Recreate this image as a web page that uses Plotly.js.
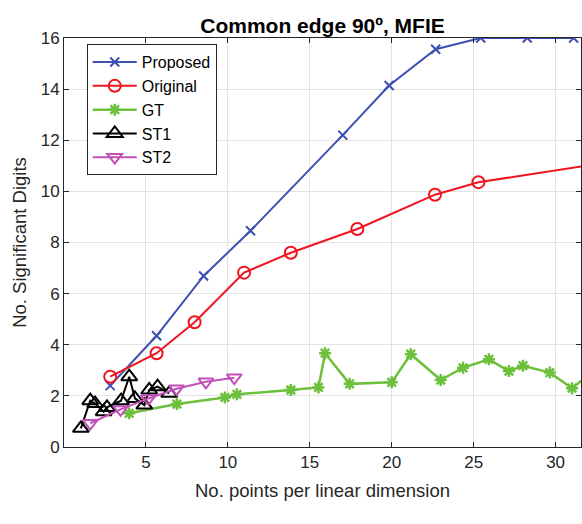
<!DOCTYPE html>
<html>
<head>
<meta charset="utf-8">
<script src="https://cdn.plot.ly/plotly-3.0.1.min.js"></script>
<style>html,body{margin:0;padding:0;background:#fff;}#chart{width:582px;height:524px;}</style>
</head>
<body>
<div id="chart"></div>
<script>
// Data
const proposedX = [2.82, 5.65, 8.52, 11.38, 17.01, 19.84, 22.68, 25.43, 28.27, 31.1];
const proposedY = [2.4, 4.35, 6.69, 8.46, 12.2, 14.14, 15.56, 16.0, 16.0, 16.0];

const originalX = [2.82, 5.65, 7.97, 10.99, 13.84, 17.9, 22.64, 25.29, 33.9];
const originalY = [2.75, 3.67, 4.88, 6.82, 7.6, 8.53, 9.87, 10.36, 11.2];

const gtX = [3.98, 6.89, 9.82, 10.55, 13.84, 15.53, 15.93, 17.43, 20.0, 21.16, 22.99, 24.35, 25.93, 27.15, 28.01, 29.65, 31.0, 32.4];
const gtY = [1.32, 1.68, 1.94, 2.06, 2.23, 2.33, 3.67, 2.47, 2.53, 3.63, 2.62, 3.1, 3.43, 2.97, 3.18, 2.91, 2.3, 3.0];

const st1X = [1.03, 1.6, 1.9, 2.42, 2.62, 3.48, 3.98, 4.33, 4.9, 5.2, 5.71, 6.42];
const st1Y = [0.73, 1.81, 1.7, 1.38, 1.55, 1.81, 2.75, 1.9, 1.64, 2.23, 2.36, 2.1];

const st2X = [1.6, 3.45, 5.15, 6.87, 8.66, 10.39];
const st2Y = [0.93, 1.47, 1.9, 2.28, 2.55, 2.71];

const seriesNames = ['Proposed', 'Original', 'GT', 'ST1', 'ST2'];
const xTicks = [5, 10, 15, 20, 25, 30];
const yTicks = [0, 2, 4, 6, 8, 10, 12, 14, 16];

const FONT = 'Liberation Sans, Arial, sans-serif';
const TXT = '#262626';

const traces = [
  {x: proposedX, y: proposedY, name: seriesNames[0], mode: 'lines+markers',
   line: {color: '#3d4fb3', width: 2},
   marker: {symbol: 'x-thin-open', size: 9, line: {color: '#3d4fb3', width: 2}}},
  {x: originalX, y: originalY, name: seriesNames[1], mode: 'lines+markers',
   line: {color: '#f0141e', width: 2},
   marker: {symbol: 'circle-open', size: 12, color: '#f0141e', line: {color: '#f0141e', width: 2}}},
  {x: gtX, y: gtY, name: seriesNames[2], mode: 'lines+markers',
   line: {color: '#6cc03c', width: 2.5},
   marker: {symbol: 'asterisk-open', size: 10, line: {color: '#6cc03c', width: 2.5}}},
  {x: st1X, y: st1Y, name: seriesNames[3], mode: 'lines+markers',
   line: {color: '#000000', width: 2},
   marker: {symbol: 'triangle-up-open', size: 14, color: '#000000', line: {color: '#000000', width: 2}}},
  {x: st2X, y: st2Y, name: seriesNames[4], mode: 'lines+markers',
   line: {color: '#c24fba', width: 2},
   marker: {symbol: 'triangle-down-open', size: 13, color: '#c24fba', line: {color: '#c24fba', width: 2}}}
];

const axisCommon = {
  showline: true, linecolor: '#262626', linewidth: 1, mirror: 'allticks',
  ticks: 'inside', ticklen: 5, tickcolor: '#262626', tickwidth: 1,
  showgrid: true, gridcolor: '#e3e3e3', gridwidth: 1, zeroline: false,
  tickfont: {family: FONT, size: 17, color: TXT}
};

const layout = {
  width: 582, height: 524,
  margin: {l: 64, r: 1, t: 38, b: 77},
  paper_bgcolor: '#ffffff', plot_bgcolor: '#ffffff',
  title: {text: '<b>Common edge 90º, MFIE</b>', font: {family: FONT, size: 21, color: '#000'},
          x: 0.5, xref: 'paper', xanchor: 'center', y: 1, yref: 'paper', yanchor: 'bottom', pad: {b: 5}},
  xaxis: Object.assign({}, axisCommon, {
    range: [0, 31.55], tickvals: xTicks, ticktext: xTicks.map(String),
    title: {text: 'No. points per linear dimension', font: {family: FONT, size: 18.5, color: TXT}, standoff: 12}
  }),
  yaxis: Object.assign({}, axisCommon, {
    range: [0, 16], tickvals: yTicks, ticktext: yTicks.map(String),
    title: {text: 'No. Significant Digits', font: {family: FONT, size: 18.5, color: TXT}, standoff: 9}
  }),
  legend: {x: 0.044, y: 0.985, xanchor: 'left', yanchor: 'top',
           bgcolor: '#ffffff', bordercolor: '#262626', borderwidth: 1, itemwidth: 44,
           font: {family: FONT, size: 16, color: '#000'}, tracegroupgap: 0},
  showlegend: true,
  annotations: [
    {text: '(b)', xref: 'paper', yref: 'paper', x: 0.5, y: -0.2, xanchor: 'center', yanchor: 'top',
     yshift: -4, showarrow: false, font: {family: 'Liberation Serif, Times New Roman, serif', size: 20, color: '#000'}}
  ]
};

Plotly.newPlot('chart', traces, layout, {displayModeBar: false, staticPlot: true});
</script>
</body>
</html>
